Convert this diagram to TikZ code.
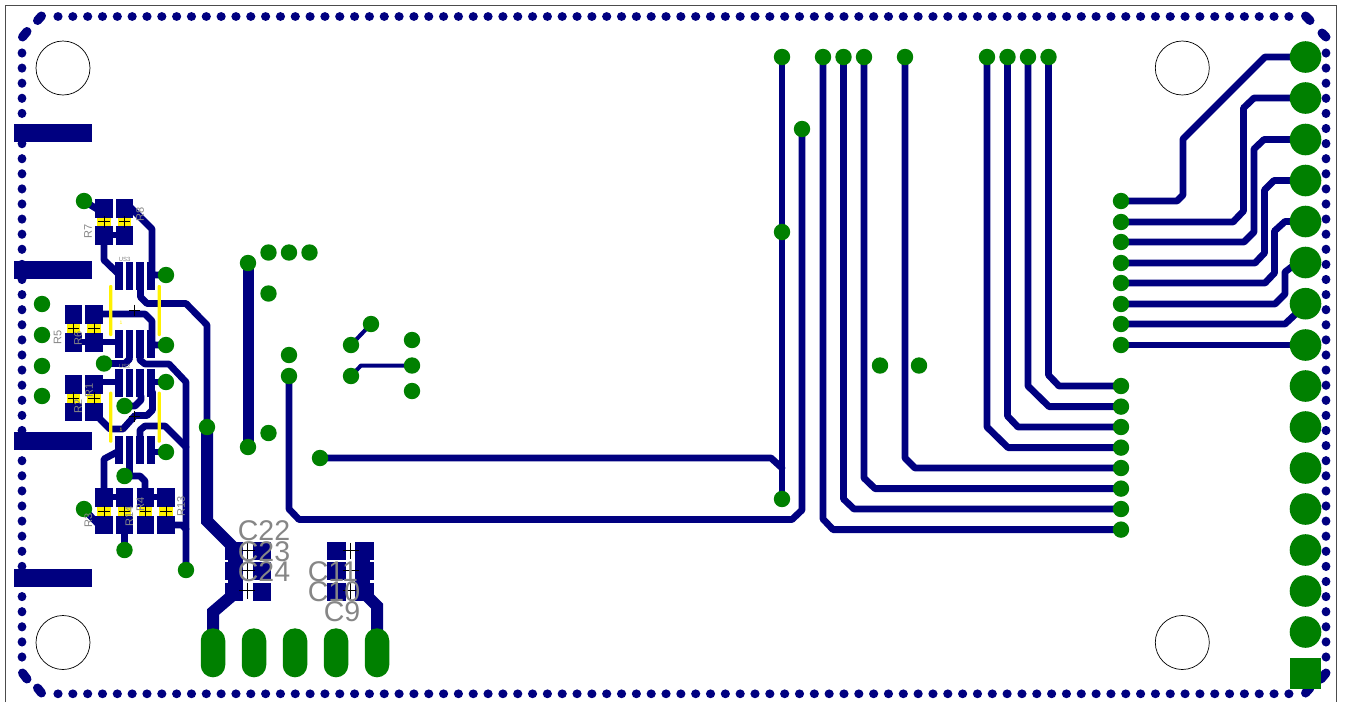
\documentclass[tikz,border=0pt]{standalone}
\usepackage{fontspec}
\setmainfont{Liberation Sans}
\definecolor{trk}{RGB}{0,0,128}
\definecolor{via}{RGB}{0,128,0}
\definecolor{silk}{RGB}{134,134,134}
\tikzset{
  track/.style={draw=trk,line width=6.8pt,line join=round,line cap=round},
  thintrack/.style={track,line width=4pt},
  widetrack/.style={track,line width=12pt,line join=miter,line cap=butt},
  stitchdiag/.style={track,line width=9pt},
  smd/.style={fill=trk},
  paste/.style={fill=yellow},
  rail/.style={fill=yellow},
  cross/.style={draw=black,line width=.7pt},
  small/.style={text=silk,font=\fontsize{11}{11}\selectfont,rotate=90,inner sep=0pt},
  big/.style={text=silk,font=\fontsize{28.5}{28.5}\selectfont,inner sep=0pt},
  tiny/.style={text=silk,font=\fontsize{6}{6}\selectfont,inner sep=0pt},
}
\begin{document}
\begin{tikzpicture}[x=1pt,y=-1pt]
\useasboundingbox (0,0) rectangle (1345,702);
\fill[white] (0,0) rectangle (1345,702);
% board outline
\draw[draw=black!70,line width=1pt] (5.5,702) -- (5.5,5.5) -- (1336,5.5) -- (1336,702);
% stitching dots
\foreach \i in {0,...,83} {
  \fill[trk] ({58+14.83*\i},16.5) ellipse (4.6 and 4.4);
  \fill[trk] ({58+14.83*\i},693.8) ellipse (4.6 and 4.4);
}
\foreach \i in {0,...,40} {
  \fill[trk] (22,{53+15.1*\i}) ellipse (4.4 and 4.6);
  \fill[trk] (1326,{53+15.1*\i}) ellipse (4.4 and 4.6);
}
\draw[stitchdiag] (41.5,16) -- (37.5,20.5);
\draw[stitchdiag] (27,31.5) -- (22.5,37);
\draw[stitchdiag] (1305.5,16) -- (1310,20.5);
\draw[stitchdiag] (1322,33) -- (1326,37);
\draw[stitchdiag] (1326,673) -- (1321,679);
\draw[stitchdiag] (1310,688) -- (1305.5,693);
\draw[stitchdiag] (22.5,673) -- (27,679);
\draw[stitchdiag] (37.5,688) -- (41.5,693);
% mounting holes
\foreach \x/\y in {63/68,1182.3/68,63/642.5,1182.3/642.5}
  \draw[black,line width=.7pt] (\x,\y) circle (27);
% side connector pads
\foreach \y in {124,261,432,569}
  \fill[smd] (14,\y) rectangle (92,{\y+17.7});
% right traces
\draw[track,line cap=butt] (1121,201) -- (1177,201) -- (1183,195) -- (1183,139) -- (1265,57) -- (1305,57);
\draw[track,line cap=butt] (1121,222) -- (1233,222) -- (1243.5,211) -- (1243.5,108) -- (1254,98) -- (1305,98);
\draw[track,line cap=butt] (1121,242) -- (1244,242) -- (1254,232) -- (1254,149) -- (1264,139.5) -- (1305,139.5);
\draw[track,line cap=butt] (1121,263) -- (1255,263) -- (1264.5,253) -- (1264.5,190) -- (1274,180.5) -- (1305,180.5);
\draw[track,line cap=butt] (1121,283) -- (1265,283) -- (1274.5,273) -- (1274.5,231) -- (1285,221.5) -- (1305,221.5);
\draw[track,line cap=butt] (1121,304) -- (1275,304) -- (1285,294) -- (1285,272) -- (1298,262);
\draw[track,line cap=butt] (1121,324) -- (1285,324) -- (1300,310);
\draw[track,line cap=butt] (1121,345) -- (1305,345);
\draw[track] (1048.5,57) -- (1048.5,375) -- (1059,386) -- (1121,386);
\draw[track] (1028,57) -- (1028,386) -- (1049,406.6) -- (1121,406.6);
\draw[track] (1007.5,57) -- (1007.5,416) -- (1018,427) -- (1121,427);
\draw[track] (987,57) -- (987,427) -- (1008,447.6) -- (1121,447.6);
\draw[track] (905,57) -- (905,458) -- (915,468) -- (1121,468);
\draw[track] (864,57) -- (864,478) -- (875,488.6) -- (1121,488.6);
\draw[track] (843.5,57) -- (843.5,499) -- (854,509) -- (1121,509);
\draw[track] (823,57) -- (823,519) -- (833,529.6) -- (1121,529.6);
\draw[track] (802,129) -- (802,510) -- (792,519.5) -- (299,519.5) -- (289,509) -- (289,376);
\draw[track] (782,57) -- (782,499);
\draw[track] (320,458) -- (771,458) -- (782,468);
% middle traces
\draw[track,line width=11pt,line cap=butt] (248,263) -- (248,447);
\draw[thintrack] (351,345) -- (371,324);
\draw[thintrack] (351,376) -- (361,365.5) -- (412,365.5);
% left traces
\draw[track] (84,201) -- (97,209);
\draw[track] (128,205) -- (152,229) -- (152,275) -- (166,275);
\draw[track] (104,245) -- (104,260) -- (118.5,274);
\draw[track] (140.5,285) -- (140.5,297) -- (147,303.5) -- (186,303.5) -- (207,325) -- (207,427);
\draw[track] (102,314) -- (145,314) -- (152,321) -- (152,345) -- (166,345);
\draw[track] (73,342) -- (118,342);
\draw[track] (104,363.5) -- (125,363.5) -- (129.5,359);
\draw[track] (140,355) -- (140,360) -- (145,364) -- (169,364) -- (186,382) -- (186,570);
\draw[track] (102,382) -- (118,382);
\draw[track] (151,382) -- (166,382);
\draw[track] (124.5,406) -- (135,406) -- (141,400) -- (141,396);
\draw[track] (100,419) -- (110,429) -- (123,429) -- (135,415.5) -- (147,415.5) -- (152.5,410) -- (152.5,392);
\draw[track] (104,488) -- (104,459) -- (119,451);
\draw[track] (129.5,462) -- (129.5,472) -- (124.5,476) -- (140,476) -- (145,481) -- (145,490);
\draw[track] (151,452) -- (166,452);
\draw[track] (140,437) -- (140,430) -- (145,426) -- (165,426) -- (186,447);
\draw[track] (172,525) -- (182,525) -- (186,529);
\draw[track] (84,509) -- (97,523);
\draw[track] (124.5,532) -- (124.5,550);
\draw[track,line cap=butt] (104,235) -- (124,235);
\draw[track,line cap=butt] (104,497) -- (124,497);
\draw[track,line cap=butt] (145,497) -- (166,497);
% resistor pads
\foreach \x/\ya/\yb in {95.3/199/226, 116/199/226, 64.7/305.3/333, 85.3/305.3/333, 64.7/375/402.7, 85.3/375/402.7, 95.3/488.3/515.7, 116/488.3/515.7, 136.7/488.3/515.7, 157.3/488.3/515.7} {
  \fill[smd] (\x,\ya) rectangle ({\x+17.4},{\ya+18.6});
  \fill[smd] (\x,\yb) rectangle ({\x+17.4},{\yb+18.6});
  \fill[paste] ({\x+2},{\ya+18.6}) rectangle ({\x+15.4},\yb);
  \draw[cross] ({\x+3},{(\ya+18.6+\yb)/2}) -- ({\x+14.4},{(\ya+18.6+\yb)/2});
  \draw[cross] ({\x+8.7},{(\ya+18.6+\yb)/2-5.7}) -- ({\x+8.7},{(\ya+18.6+\yb)/2+5.7});
}
% IC pads
\foreach \y in {262,330,369,436.3}
  \foreach \x in {115.2,125.8,136.2,147}
    \fill[smd] (\x,\y) rectangle ({\x+7.6},{\y+28});
% yellow rails
\foreach \x/\y in {110.7/285,159.3/285,110.7/391.7,159.3/391.7}
  \fill[rail,rounded corners=1pt] ({\x-1.6},\y) rectangle ({\x+1.6},{\y+51});
% crosses on traces
\foreach \x/\y in {134.3/310,134.3/416.5} {
  \draw[cross] ({\x-5.5},\y) -- ({\x+5.5},\y);
  \draw[cross] (\x,{\y-5.5}) -- (\x,{\y+5.5});
}
% capacitor pads
\foreach \y in {541.7,562.3,582.7} {
  \fill[smd] (225,\y) rectangle (243.3,{\y+17.8});
  \fill[smd] (252.7,\y) rectangle (271,{\y+17.8});
  \fill[smd] (327.3,\y) rectangle (346,{\y+17.8});
  \fill[smd] (355,\y) rectangle (373.7,{\y+17.8});
}
\fill[smd] (228.3,550) rectangle (243.3,595);
\fill[smd] (355,550) rectangle (370.3,595);
\draw[widetrack] (207,427) -- (207,521) -- (234,548);
\draw[widetrack] (234,594) -- (213,612) -- (213,632);
\draw[widetrack] (366,595) -- (377,606) -- (377,632);
\foreach \x in {247.3,350.7}
  \foreach \y in {550.7,570.7,590.7} {
    \draw[cross] ({\x-8},\y) -- ({\x+8},\y);
    \draw[cross] (\x,{\y-8}) -- (\x,{\y+8});
  }
% through holes
\foreach \x/\y in {782/57,823/57,843.5/57,864/57,905/57,987/57,1007.5/57,1028/57,1048.5/57,802/129,782/232,
  782/499,880/365.5,919/365.5,412/340,412/365.5,412/391,371/324,351/345,351/376,289/355,289/376,320/458,
  248/263,248/447,268.5/252.5,289/252.5,309.5/252.5,268.5/293.5,268.5/433,
  84/201,42/304,42/335,42/366,42/396,104/363.5,124.5/406,166/275,166/345,166/382,166/452,124.5/476,84/509,124.5/550,186/570,207/427,
  1121/201,1121/222,1121/242,1121/263,1121/283,1121/304,1121/324,1121/345,
  1121/386,1121/406.6,1121/427,1121/447.6,1121/468,1121/488.6,1121/509,1121/529.6}
  \fill[via] (\x,\y) circle (8.2);
\foreach \y in {57,98,139.5,180.5,221.5,262.5,303.7,345,386,427,468,509,550,591,632}
  \fill[via] (1305.5,\y) circle (15.8);
\fill[via] (1290,658) rectangle (1321,689);
\foreach \x in {213,254,295,336,377}
  \fill[via,rounded corners=12.2pt] ({\x-12.25},628.3) rectangle ({\x+12.25},677.3);
% labels
\node[small] (r7) at (88,231) {R7};
\node[small] (r8) at (140,214) {R8};
\node[small] (r5) at (57.7,337) {R5};
\node[small] (r6) at (78,338) {R6};
\node[small] (r2) at (78,406.7) {R2};
\node[small] (r1) at (89,390.7) {R1};
\node[small] (r4) at (140.3,504) {R4};
\node[small] (r14) at (129.3,516.7) {R14};
\node[small] (r3) at (88.3,520) {R3};
\node[small] (r13) at (181,506.7) {R13};
\node[tiny] (us3) at (124.7,259.3) {US3};
\node[tiny] (us2) at (124.7,366.7) {US2};
\node[text=yellow,font=\fontsize{5}{5}\selectfont,inner sep=0pt] (one) at (121,323) {1};
\node[text=yellow,font=\fontsize{5}{5}\selectfont,inner sep=0pt] (onb) at (121,430) {1};
\node[big] (c22) at (264,531) {C22};
\node[big] (c23) at (264,551.5) {C23};
\node[big] (c24) at (264,571.5) {C24};
\node[big] (c11) at (333,571.5) {C11};
\node[big] (c10) at (334,592) {C10};
\node[big] (c9) at (342,612) {C9};
\end{tikzpicture}
\end{document}
